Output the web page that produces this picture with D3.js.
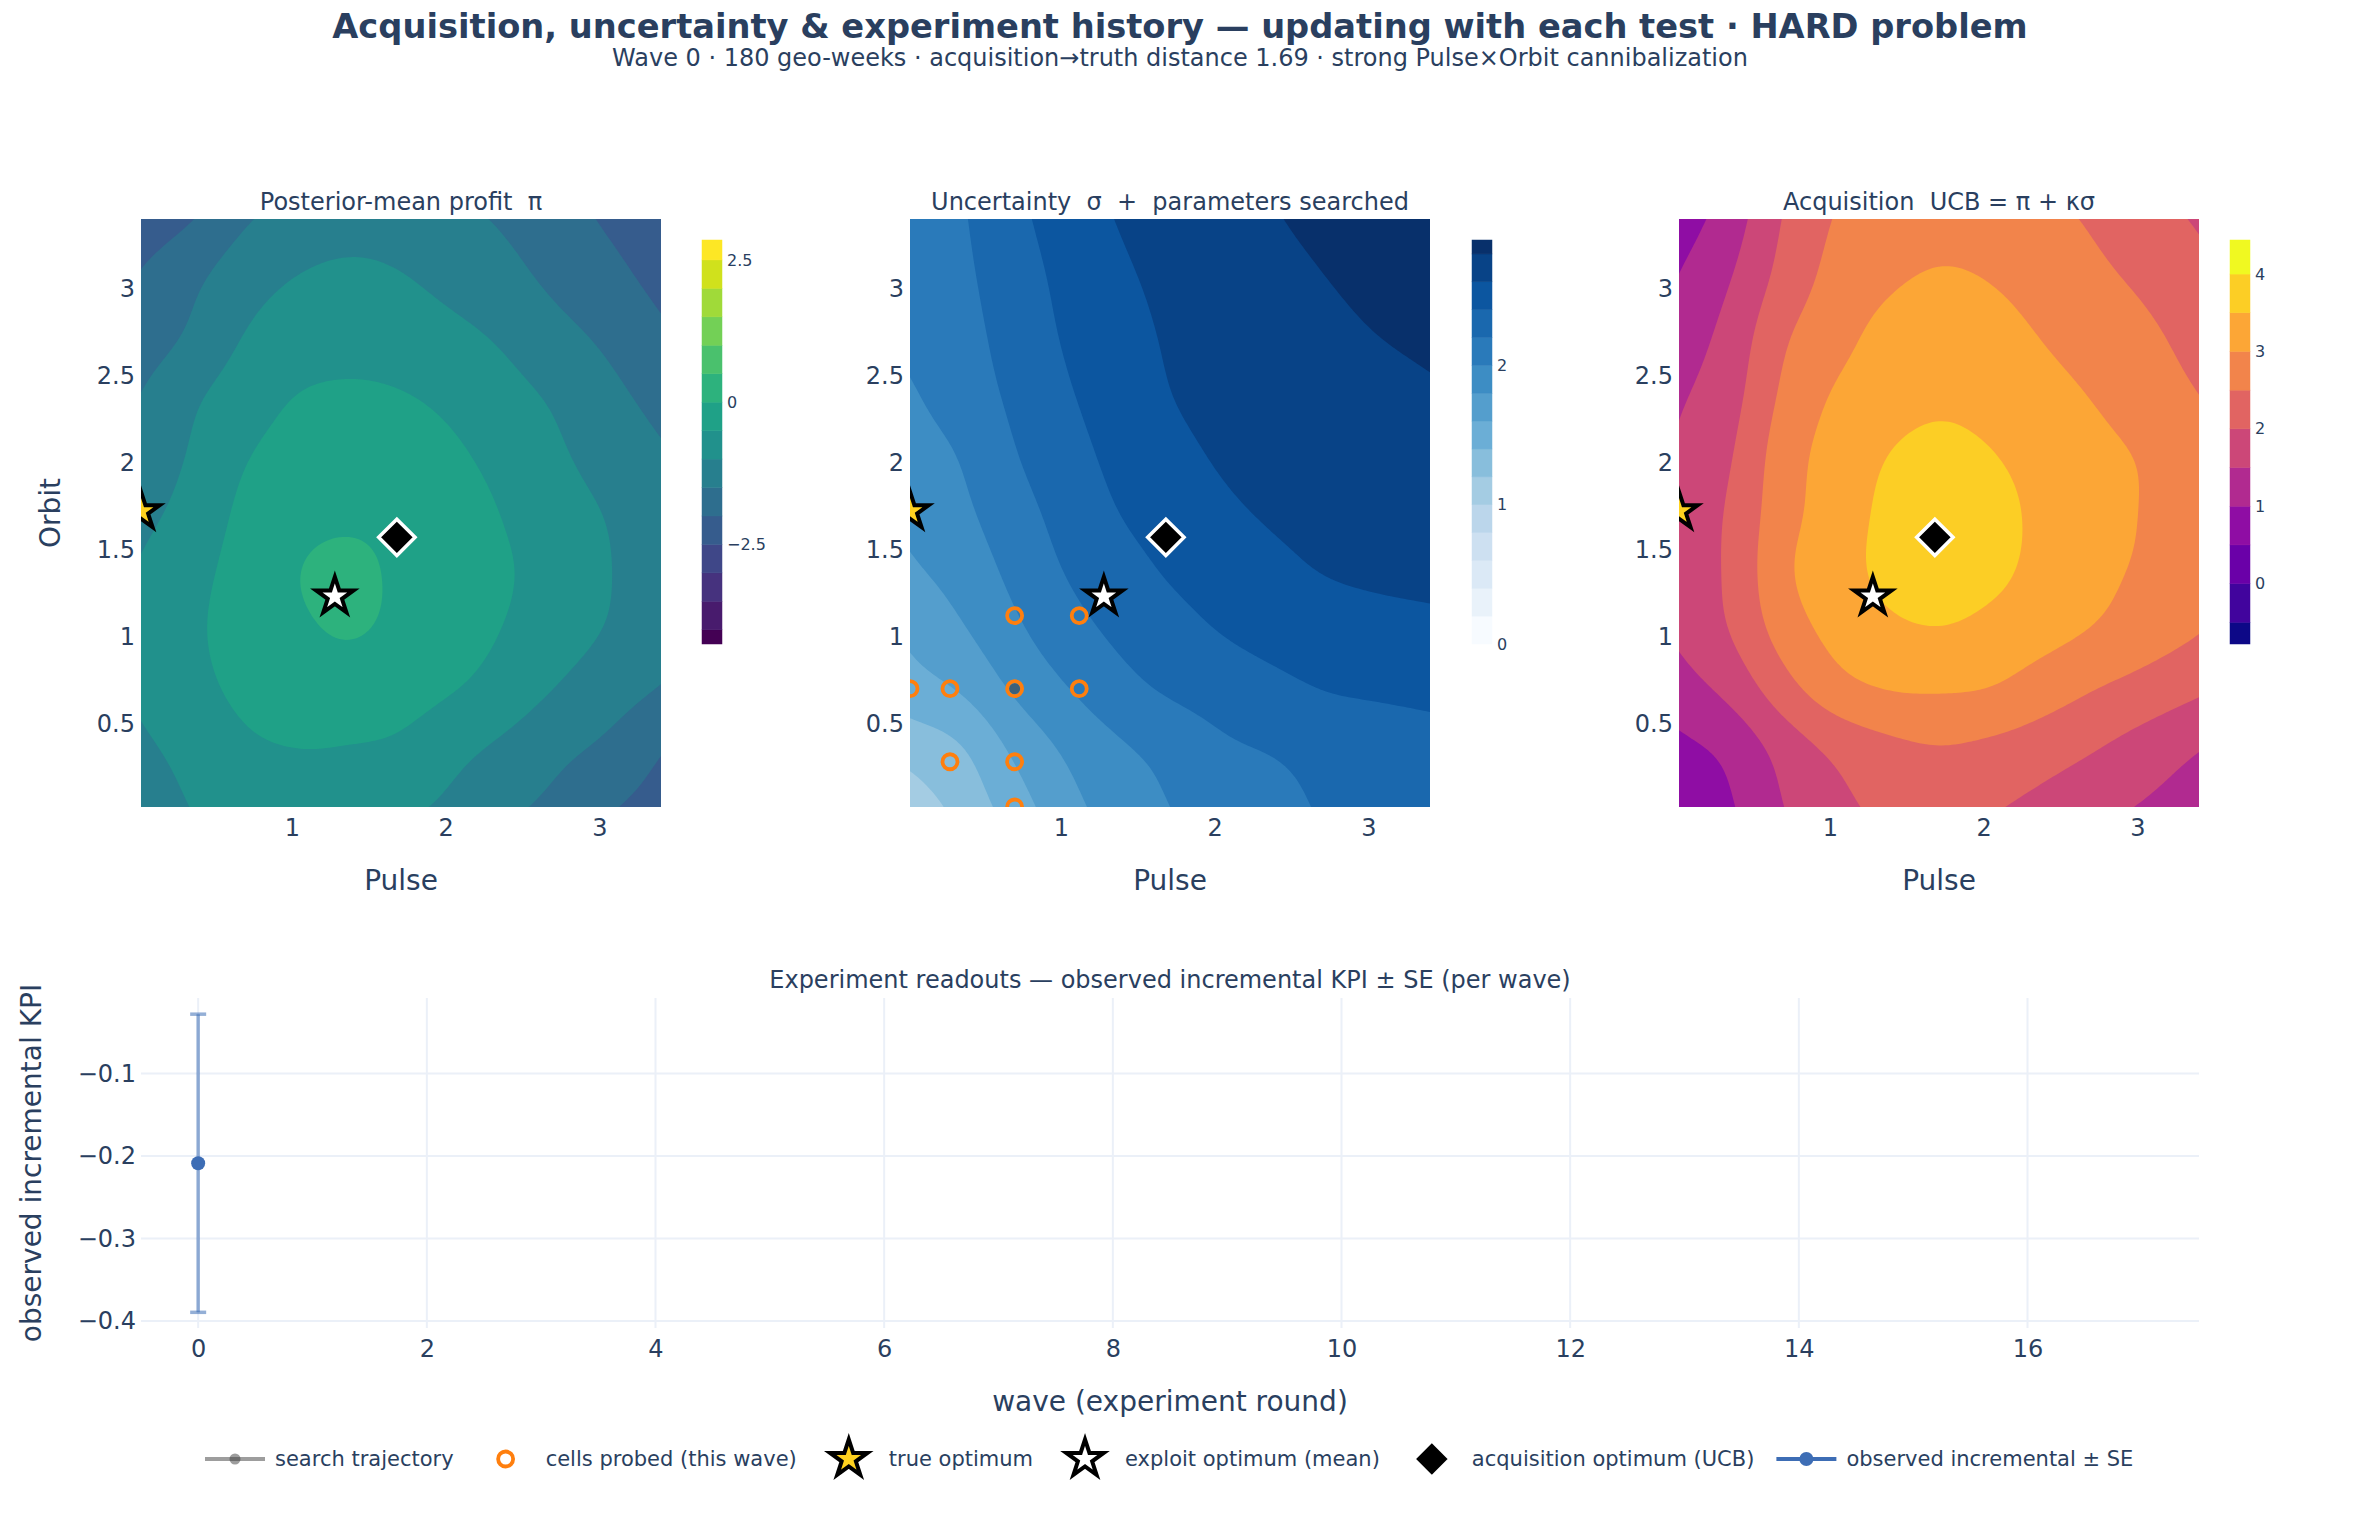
<!DOCTYPE html>
<html><head><meta charset="utf-8">
<script src="https://cdn.jsdelivr.net/npm/d3@7"></script>
<style>
html,body{margin:0;padding:0;background:#fff;}
svg{display:block;}
</style></head><body>
<svg id="chart" width="2360" height="1520"></svg>
<script>
// ---------------- DATA ----------------
// grid sample positions (Pulse on x, Orbit on y)
const pulseValues = [0.02, 0.358, 0.696, 1.034, 1.372, 1.71, 2.048, 2.386, 2.724, 3.062, 3.40];
const orbitValues = [0.02, 0.358, 0.696, 1.034, 1.372, 1.71, 2.048, 2.386, 2.724, 3.062, 3.40];

// posterior-mean profit π  (rows = orbitValues from low to high, columns = pulseValues)
const profitMean = [
  [-1.25, -0.98, -0.80, -0.70, -0.74, -0.90, -1.10, -1.40, -1.62, -1.95, -2.20],
  [-1.08, -0.85, -0.58, -0.50, -0.52, -0.58, -0.86, -1.10, -1.38, -1.60, -1.97],
  [-0.92, -0.65, -0.38, -0.25, -0.22, -0.30, -0.47, -0.72, -1.02, -1.28, -1.52],
  [-0.88, -0.58, -0.28, -0.08,  0.05, -0.10, -0.27, -0.52, -0.78, -1.03, -1.30],
  [-0.95, -0.65, -0.30,  0.00,  0.11, -0.08, -0.25, -0.45, -0.70, -0.98, -1.28],
  [-1.13, -0.82, -0.38, -0.15, -0.08, -0.12, -0.25, -0.53, -0.78, -1.03, -1.32],
  [-1.32, -0.95, -0.53, -0.32, -0.25, -0.27, -0.42, -0.68, -0.93, -1.22, -1.45],
  [-1.48, -1.07, -0.75, -0.48, -0.42, -0.47, -0.62, -0.85, -1.07, -1.38, -1.65],
  [-1.78, -1.42, -0.97, -0.78, -0.70, -0.75, -0.88, -1.07, -1.35, -1.60, -1.90],
  [-1.95, -1.60, -1.20, -0.98, -0.90, -0.97, -1.15, -1.35, -1.62, -1.85, -2.15],
  [-2.30, -2.02, -1.55, -1.30, -1.18, -1.22, -1.38, -1.56, -1.80, -2.07, -2.35]
];
// posterior uncertainty σ
const sigmaValues = [
  [1.10, 1.26, 1.50, 1.73, 1.89, 2.00, 2.09, 2.15, 2.22, 2.28, 2.32],
  [1.27, 1.38, 1.64, 1.83, 1.97, 2.06, 2.17, 2.21, 2.26, 2.30, 2.33],
  [1.52, 1.62, 1.83, 1.99, 2.13, 2.23, 2.29, 2.35, 2.41, 2.43, 2.45],
  [1.64, 1.78, 1.96, 2.12, 2.24, 2.33, 2.41, 2.47, 2.51, 2.54, 2.56],
  [1.77, 1.88, 2.05, 2.21, 2.32, 2.42, 2.49, 2.56, 2.61, 2.63, 2.64],
  [1.85, 1.96, 2.12, 2.27, 2.40, 2.49, 2.57, 2.62, 2.64, 2.66, 2.68],
  [1.92, 2.01, 2.19, 2.33, 2.45, 2.55, 2.62, 2.65, 2.68, 2.71, 2.73],
  [1.98, 2.09, 2.24, 2.38, 2.49, 2.60, 2.65, 2.68, 2.72, 2.75, 2.78],
  [2.04, 2.13, 2.28, 2.42, 2.53, 2.62, 2.67, 2.71, 2.76, 2.80, 2.83],
  [2.06, 2.16, 2.31, 2.45, 2.57, 2.64, 2.70, 2.75, 2.80, 2.84, 2.87],
  [2.08, 2.18, 2.35, 2.49, 2.61, 2.66, 2.72, 2.79, 2.84, 2.87, 2.90]
];
// acquisition UCB
const ucbValues = [
  [0.60, 0.95, 1.50, 1.86, 2.12, 2.20, 2.05, 1.86, 1.65, 1.45, 1.25],
  [0.88, 1.12, 1.68, 2.10, 2.35, 2.47, 2.38, 2.22, 2.02, 1.77, 1.51],
  [1.28, 1.65, 2.30, 2.82, 3.03, 3.05, 3.00, 2.75, 2.50, 2.30, 2.08],
  [1.60, 2.02, 2.72, 3.15, 3.38, 3.47, 3.33, 3.17, 2.98, 2.75, 2.53],
  [1.70, 2.08, 2.92, 3.28, 3.64, 3.90, 3.64, 3.35, 3.12, 2.92, 2.70],
  [1.68, 2.06, 2.82, 3.22, 3.62, 3.90, 3.67, 3.39, 3.19, 2.96, 2.72],
  [1.57, 1.95, 2.77, 3.18, 3.50, 3.66, 3.52, 3.32, 3.13, 2.95, 2.68],
  [1.44, 1.81, 2.60, 3.05, 3.28, 3.40, 3.32, 3.16, 2.97, 2.73, 2.50],
  [1.23, 1.68, 2.44, 2.83, 3.15, 3.25, 3.18, 2.98, 2.78, 2.59, 2.33],
  [1.02, 1.48, 2.17, 2.66, 2.92, 3.05, 2.98, 2.80, 2.60, 2.40, 2.14],
  [0.75, 1.25, 2.03, 2.53, 2.72, 2.82, 2.78, 2.62, 2.44, 2.18, 1.95]
];

// contour levels and colour-bar ranges
const profitLevels = [-4, -3.5, -3, -2.5, -2, -1.5, -1, -0.5, 0, 0.5, 1, 1.5, 2, 2.5];
const sigmaLevels  = [0.2, 0.4, 0.6, 0.8, 1.0, 1.2, 1.4, 1.6, 1.8, 2.0, 2.2, 2.4, 2.6, 2.8];
const ucbLevels    = [-0.5, 0, 0.5, 1, 1.5, 2, 2.5, 3, 3.5, 4];
const profitRange = [-4.25, 2.85];
const sigmaRange  = [0, 2.90];
const ucbRange    = [-0.78, 4.44];
const profitBarTicks = [-2.5, 0, 2.5];
const sigmaBarTicks  = [0, 1, 2];
const ucbBarTicks    = [0, 1, 2, 3, 4];

// parameter-space axes ticks
const pulseTicks = [1, 2, 3];
const orbitTicks = [0.5, 1, 1.5, 2, 2.5, 3];

// markers
const probedPulse = [0.70, 1.12, 0.02, 0.28, 0.70, 1.12, 0.28, 0.70, 0.70];
const probedOrbit = [1.12, 1.12, 0.70, 0.70, 0.70, 0.70, 0.28, 0.28, 0.02];
const trajectoryPulse = [0.70];
const trajectoryOrbit = [0.70];
const trueOptimum    = {pulse: 0.02, orbit: 1.72};
const exploitOptimum = {pulse: 1.28, orbit: 1.23};
const acqOptimum     = {pulse: 1.683, orbit: 1.57};

// experiment readouts
const waves = [0];
const observedKPI = [-0.2088];
const observedSE  = [0.1807];
const waveTicks = [0, 2, 4, 6, 8, 10, 12, 14, 16];
const kpiTicks  = [-0.4, -0.3, -0.2, -0.1];

// ---------------- LAYOUT ----------------
const FONT = '"DejaVu Sans", Verdana, sans-serif';
const TXT = '#2a3f5f';
const svg = d3.select('#chart').style('font-family', FONT);
svg.append('rect').attr('width', 2360).attr('height', 1520).attr('fill', '#fff');

const panelTop = 219, panelBottom = 807;
const panelLeft = [141, 910, 1679], panelWidth = 520;
const cbLeft = [702, 1472, 2230], cbWidth = 20, cbTop = 240, cbBottom = 644;

const bluesStops = ['rgb(247,251,255)','rgb(222,235,247)','rgb(198,219,239)','rgb(158,202,225)','rgb(107,174,214)','rgb(66,146,198)','rgb(33,113,181)','rgb(8,81,156)','rgb(8,48,107)'];
const bluesScale = d3.scaleLinear().domain(d3.range(9).map(i => i / 8)).range(bluesStops).interpolate(d3.interpolateRgb);

const panels = [
  {title: 'Posterior-mean profit  π', grid: profitMean, levels: profitLevels, range: profitRange, barTicks: profitBarTicks, interp: d3.interpolateViridis},
  {title: 'Uncertainty  σ  +  parameters searched', grid: sigmaValues, levels: sigmaLevels, range: sigmaRange, barTicks: sigmaBarTicks, interp: t => bluesScale(t)},
  {title: 'Acquisition  UCB = π + κσ', grid: ucbValues, levels: ucbLevels, range: ucbRange, barTicks: ucbBarTicks, interp: d3.interpolatePlasma}
];

// smooth rendering of the sampled surface (Catmull-Rom resampling + light smoothing, drawing only)
function cr(p0, p1, p2, p3, t) {
  const t2 = t * t, t3 = t2 * t;
  return 0.5 * (2 * p1 + (-p0 + p2) * t + (2 * p0 - 5 * p1 + 4 * p2 - p3) * t2 + (-p0 + 3 * p1 - 3 * p2 + p3) * t3);
}
function resample(grid, M) {
  const nj = grid.length, ni = grid[0].length;
  const row = (j) => {
    if (j < 0) return grid[0].map((v, i) => 2 * v - grid[1][i]);
    if (j > nj - 1) return grid[nj - 1].map((v, i) => 2 * v - grid[nj - 2][i]);
    return grid[j];
  };
  const at = (r, i) => {
    if (i < 0) return 2 * r[0] - r[1];
    if (i > ni - 1) return 2 * r[ni - 1] - r[ni - 2];
    return r[i];
  };
  const out = new Float64Array(M * M);
  for (let a = 0; a < M; a++) {
    const fy = a / (M - 1) * (nj - 1);
    const j = Math.min(nj - 2, Math.floor(fy)), ty = fy - j;
    const rows = [row(j - 1), row(j), row(j + 1), row(j + 2)];
    for (let b = 0; b < M; b++) {
      const fx = b / (M - 1) * (ni - 1);
      const i = Math.min(ni - 2, Math.floor(fx)), tx = fx - i;
      const v = rows.map(r => cr(at(r, i - 1), at(r, i), at(r, i + 1), at(r, i + 2), tx));
      out[a * M + b] = cr(v[0], v[1], v[2], v[3], ty);
    }
  }
  return out;
}
function smooth(arr, M, s) {
  const r = Math.ceil(3 * s), k = [];
  for (let i = -r; i <= r; i++) k.push(Math.exp(-i * i / (2 * s * s)));
  const sum = d3.sum(k), kk = k.map(w => w / sum);
  const ext = (line, idx) => {
    if (idx < 0) return 2 * line(0) - line(-idx);
    if (idx > M - 1) return 2 * line(M - 1) - line(2 * (M - 1) - idx);
    return line(idx);
  };
  const tmp = new Float64Array(M * M), out = new Float64Array(M * M);
  for (let a = 0; a < M; a++) for (let b = 0; b < M; b++) {
    let v = 0; const line = q => arr[a * M + q];
    for (let i = -r; i <= r; i++) v += kk[i + r] * ext(line, b + i);
    tmp[a * M + b] = v;
  }
  for (let a = 0; a < M; a++) for (let b = 0; b < M; b++) {
    let v = 0; const line = q => tmp[q * M + b];
    for (let i = -r; i <= r; i++) v += kk[i + r] * ext(line, a + i);
    out[a * M + b] = v;
  }
  return out;
}

function starPath(r) {
  const rs = r * 1.4, x1 = rs * 0.225, x2 = rs * 0.951, x3 = rs * 0.363, x4 = rs * 0.588,
        y0 = -rs, y1 = rs * -0.309, y3 = rs * 0.118, y4 = rs * 0.809, y5 = rs * 0.382;
  return `M${x1},${y1}H${x2}L${x3},${y3}L${x4},${y4}L0,${y5}L${-x4},${y4}L${-x3},${y3}L${-x2},${y1}H${-x1}L0,${y0}Z`;
}
function diamondPath(r) { const d = r * 1.3; return `M${d},0L0,${d}L${-d},0L0,${-d}Z`; }

const M = 161;
const pMin = pulseValues[0], pMax = pulseValues[pulseValues.length - 1];
const oMin = orbitValues[0], oMax = orbitValues[orbitValues.length - 1];
const sp = (pMax - pMin) / (M - 1), so = (oMax - oMin) / (M - 1);

panels.forEach((cfg, k) => {
  const x0 = panelLeft[k], x1 = x0 + panelWidth;
  const xs = d3.scaleLinear().domain([pMin, pMax]).range([x0, x1]);
  const ys = d3.scaleLinear().domain([oMin, oMax]).range([panelBottom, panelTop]);
  const nb = cfg.levels.length + 1;
  const bandColor = b => d3.color(cfg.interp(b / (nb - 1))).formatHex();

  const clipId = 'clip' + k;
  svg.append('clipPath').attr('id', clipId).append('rect')
    .attr('x', x0).attr('y', panelTop).attr('width', panelWidth).attr('height', panelBottom - panelTop);
  const g = svg.append('g').attr('clip-path', `url(#${clipId})`);

  g.append('rect').attr('x', x0).attr('y', panelTop).attr('width', panelWidth)
    .attr('height', panelBottom - panelTop).attr('fill', bandColor(0));

  const vals = smooth(resample(cfg.grid, M), M, 4);
  const contours = d3.contours().size([M, M]).thresholds(cfg.levels)(vals);
  const proj = d3.geoTransform({point(u, v) { this.stream.point(xs(pMin + (u - 0.5) * sp), ys(oMin + (v - 0.5) * so)); }});
  const path = d3.geoPath(proj);
  g.selectAll('path.band').data(contours).join('path').attr('class', 'band')
    .attr('d', path).attr('fill', (d, i) => bandColor(i + 1)).attr('stroke', 'none');

  // markers
  if (k === 1) {
    g.selectAll('circle.traj').data(trajectoryPulse).join('circle').attr('class', 'traj')
      .attr('cx', (d) => xs(d)).attr('cy', (d, i) => ys(trajectoryOrbit[i])).attr('r', 5.5)
      .attr('fill', 'rgba(60,60,60,0.55)');
    g.selectAll('circle.probe').data(probedPulse).join('circle').attr('class', 'probe')
      .attr('cx', d => xs(d)).attr('cy', (d, i) => ys(probedOrbit[i])).attr('r', 7.5)
      .attr('fill', 'none').attr('stroke', '#ff7f0e').attr('stroke-width', 3.8);
  }
  g.append('path').attr('d', starPath(14)).attr('transform', `translate(${xs(trueOptimum.pulse)},${ys(trueOptimum.orbit)})`)
    .attr('fill', '#FFD21F').attr('stroke', '#000').attr('stroke-width', 4);
  g.append('path').attr('d', starPath(14)).attr('transform', `translate(${xs(exploitOptimum.pulse)},${ys(exploitOptimum.orbit)})`)
    .attr('fill', '#fff').attr('stroke', '#000').attr('stroke-width', 4);
  g.append('path').attr('d', diamondPath(14)).attr('transform', `translate(${xs(acqOptimum.pulse)},${ys(acqOptimum.orbit)})`)
    .attr('fill', '#000').attr('stroke', '#fff').attr('stroke-width', 3.5);

  // axes
  const ax = svg.append('g').attr('transform', `translate(0,${panelBottom})`)
    .call(d3.axisBottom(xs).tickValues(pulseTicks).tickSize(0).tickPadding(12).tickFormat(d3.format('')));
  const ay = svg.append('g').attr('transform', `translate(${x0},0)`)
    .call(d3.axisLeft(ys).tickValues(orbitTicks).tickSize(0).tickPadding(6).tickFormat(d3.format('')));
  [ax, ay].forEach(a => { a.select('.domain').remove(); a.selectAll('text').attr('font-size', 24).attr('fill', TXT).attr('font-family', FONT); });

  svg.append('text').attr('x', (x0 + x1) / 2).attr('y', 890).attr('text-anchor', 'middle')
    .attr('font-size', 28).attr('fill', TXT).text('Pulse');
  svg.append('text').attr('x', (x0 + x1) / 2).attr('y', 210).attr('text-anchor', 'middle')
    .attr('font-size', 24).attr('fill', TXT).style('white-space', 'pre').text(cfg.title);

  // colour bar
  const cs = d3.scaleLinear().domain(cfg.range).range([cbBottom, cbTop]);
  const edges = [cfg.range[0], ...cfg.levels, cfg.range[1]];
  const bands = d3.range(nb).map(b => ({lo: Math.max(edges[b], cfg.range[0]), hi: Math.min(edges[b + 1], cfg.range[1]), b}));
  svg.append('g').selectAll('rect').data(bands).join('rect')
    .attr('x', cbLeft[k]).attr('width', cbWidth)
    .attr('y', d => cs(d.hi)).attr('height', d => cs(d.lo) - cs(d.hi))
    .attr('fill', d => bandColor(d.b)).attr('stroke', d => bandColor(d.b)).attr('stroke-width', 0.5);
  const cb = svg.append('g').attr('transform', `translate(${cbLeft[k] + cbWidth},0)`)
    .call(d3.axisRight(cs).tickValues(cfg.barTicks).tickSize(0).tickPadding(5).tickFormat(d3.format('')));
  cb.select('.domain').remove();
  cb.selectAll('text').attr('font-size', 16).attr('fill', TXT).attr('font-family', FONT);
});

svg.append('text').attr('transform', `translate(50,${(panelTop + panelBottom) / 2}) rotate(-90)`)
  .attr('text-anchor', 'middle').attr('dy', '0.35em').attr('font-size', 28).attr('fill', TXT).text('Orbit');

// ---------------- bottom panel ----------------
const bL = 141, bR = 2199, bT = 998, bB = 1328;
const xb = d3.scaleLinear().domain([-0.5, 17.5]).range([bL, bR]);
const yb = d3.scaleLinear().domain([-0.4085, -0.0085]).range([bB, bT]);
const gb = svg.append('g');
gb.selectAll('line.vg').data(waveTicks).join('line').attr('class', 'vg')
  .attr('x1', d => xb(d)).attr('x2', d => xb(d)).attr('y1', bT).attr('y2', bB)
  .attr('stroke', '#EBF0F8').attr('stroke-width', 2);
gb.selectAll('line.hg').data(kpiTicks).join('line').attr('class', 'hg')
  .attr('y1', d => yb(d)).attr('y2', d => yb(d)).attr('x1', bL).attr('x2', bR)
  .attr('stroke', '#EBF0F8').attr('stroke-width', 2);
const axb = svg.append('g').attr('transform', `translate(0,${bB})`)
  .call(d3.axisBottom(xb).tickValues(waveTicks).tickSize(0).tickPadding(12).tickFormat(d3.format('')));
const ayb = svg.append('g').attr('transform', `translate(${bL},0)`)
  .call(d3.axisLeft(yb).tickValues(kpiTicks).tickSize(0).tickPadding(5).tickFormat(d3.format('.1f')));
[axb, ayb].forEach(a => { a.select('.domain').remove(); a.selectAll('text').attr('font-size', 24).attr('fill', TXT).attr('font-family', FONT); });

const errColor = 'rgba(61,109,181,0.55)', ptColor = '#3d6db5';
waves.forEach((w, i) => {
  const cx = xb(w), lo = yb(observedKPI[i] - observedSE[i]), hi = yb(observedKPI[i] + observedSE[i]);
  gb.append('line').attr('x1', cx).attr('x2', cx).attr('y1', lo).attr('y2', hi).attr('stroke', errColor).attr('stroke-width', 3.5);
  [lo, hi].forEach(yy => gb.append('line').attr('x1', cx - 8).attr('x2', cx + 8).attr('y1', yy).attr('y2', yy)
    .attr('stroke', errColor).attr('stroke-width', 3.5));
  gb.append('circle').attr('cx', cx).attr('cy', yb(observedKPI[i])).attr('r', 7).attr('fill', ptColor);
});

svg.append('text').attr('x', (bL + bR) / 2).attr('y', 988).attr('text-anchor', 'middle')
  .attr('font-size', 24).attr('fill', TXT).text('Experiment readouts — observed incremental KPI ± SE (per wave)');
svg.append('text').attr('x', (bL + bR) / 2).attr('y', 1411).attr('text-anchor', 'middle')
  .attr('font-size', 28).attr('fill', TXT).text('wave (experiment round)');
svg.append('text').attr('transform', `translate(31,${(bT + bB) / 2}) rotate(-90)`)
  .attr('text-anchor', 'middle').attr('dy', '0.35em').attr('font-size', 28).attr('fill', TXT).text('observed incremental KPI');

// ---------------- titles ----------------
function fitText(sel, target) {
  const len = sel.node().getComputedTextLength();
  const fs = +sel.attr('font-size');
  sel.attr('font-size', (fs * target / len).toFixed(2));
}
const t1 = svg.append('text').attr('x', 1180).attr('y', 38).attr('text-anchor', 'middle')
  .attr('font-size', 28).attr('font-weight', 'bold').attr('fill', TXT)
  .text('Acquisition, uncertainty & experiment history — updating with each test · HARD problem');
fitText(t1, 1696);
const t2 = svg.append('text').attr('x', 1180).attr('y', 66).attr('text-anchor', 'middle')
  .attr('font-size', 21).attr('fill', TXT)
  .text('Wave 0 · 180 geo-weeks · acquisition→truth distance 1.69 · strong Pulse×Orbit cannibalization');
fitText(t2, 1136);

// ---------------- legend ----------------
const legendItems = [
  {name: 'search trajectory', kind: 'traj'},
  {name: 'cells probed (this wave)', kind: 'probe'},
  {name: 'true optimum', kind: 'true'},
  {name: 'exploit optimum (mean)', kind: 'exploit'},
  {name: 'acquisition optimum (UCB)', kind: 'acq'},
  {name: 'observed incremental ± SE', kind: 'obs'}
];
const ly = 1459;
let lx = 195;
legendItems.forEach(it => {
  const g = svg.append('g').attr('transform', `translate(${lx},${ly})`);
  if (it.kind === 'traj') {
    g.append('line').attr('x1', 10).attr('x2', 70).attr('stroke', 'rgba(60,60,60,0.5)').attr('stroke-width', 4);
    g.append('circle').attr('cx', 40).attr('r', 5.5).attr('fill', 'rgba(60,60,60,0.5)');
  } else if (it.kind === 'probe') {
    g.append('circle').attr('cx', 40).attr('r', 7.5).attr('fill', 'none').attr('stroke', '#ff7f0e').attr('stroke-width', 3.8);
  } else if (it.kind === 'true') {
    g.append('path').attr('d', starPath(14)).attr('transform', 'translate(40,0)').attr('fill', '#FFD21F').attr('stroke', '#000').attr('stroke-width', 4);
  } else if (it.kind === 'exploit') {
    g.append('path').attr('d', starPath(14)).attr('transform', 'translate(40,0)').attr('fill', '#fff').attr('stroke', '#000').attr('stroke-width', 4);
  } else if (it.kind === 'acq') {
    g.append('path').attr('d', diamondPath(14)).attr('transform', 'translate(40,0)').attr('fill', '#000').attr('stroke', '#fff').attr('stroke-width', 3.5);
  } else {
    g.append('line').attr('x1', 10).attr('x2', 70).attr('stroke', ptColor).attr('stroke-width', 4);
    g.append('circle').attr('cx', 40).attr('r', 7).attr('fill', ptColor);
  }
  const t = g.append('text').attr('x', 80).attr('dy', '0.35em').attr('font-size', 21).attr('fill', TXT).text(it.name);
  lx += 80 + t.node().getComputedTextLength() + 12;
});
</script></body></html>
